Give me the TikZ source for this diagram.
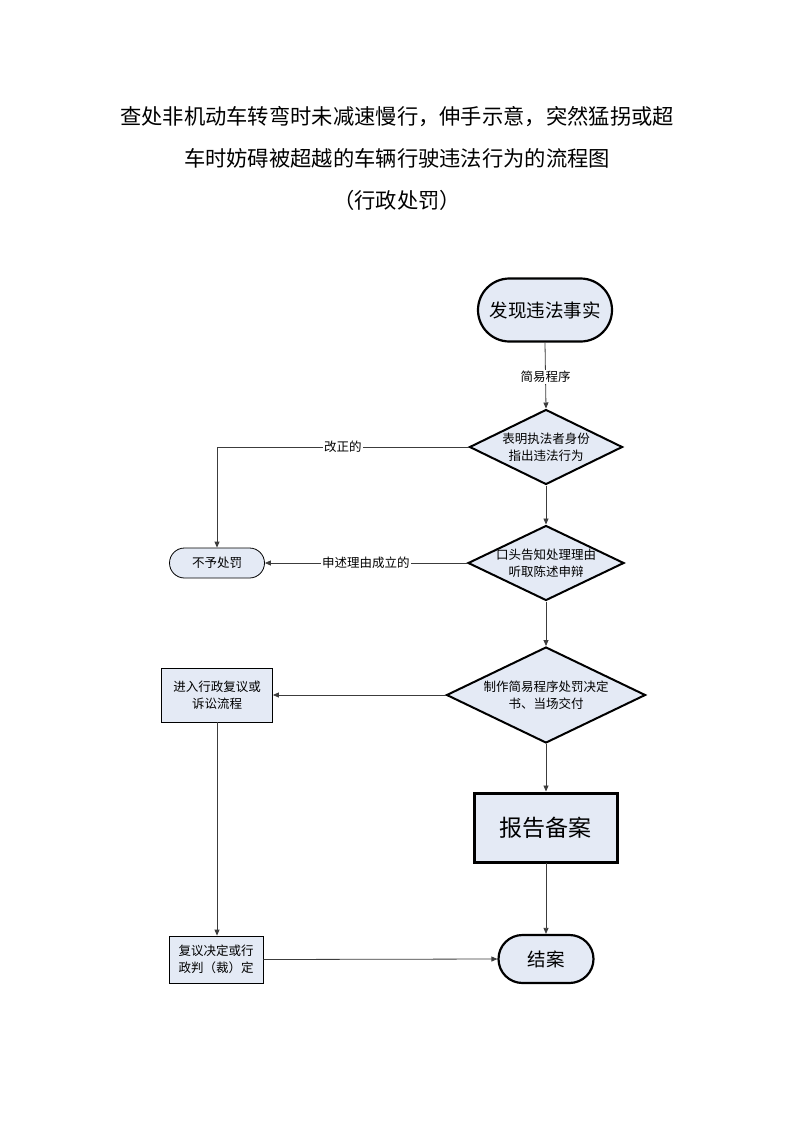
\documentclass[tikz,border=0pt]{standalone}
\usepackage{fontspec}
\setmainfont{Noto Sans CJK SC}
\usetikzlibrary{shapes.geometric,shapes.misc,arrows.meta}
\definecolor{boxfill}{RGB}{228,234,245}
\definecolor{linec}{RGB}{60,60,60}
\tikzset{
  base/.style={fill=boxfill, draw=black, inner sep=0pt, align=center},
  stadium/.style={base, rounded rectangle, line width=2.2pt},
  thinstadium/.style={base, rounded rectangle, line width=0.8pt},
  dia/.style={base, diamond, line width=2pt},
  rectbox/.style={base, rectangle, line width=0.8pt},
  bigbox/.style={base, rectangle, line width=3pt},
  small/.style={font=\fontsize{12.5}{17}\selectfont},
  conn/.style={draw=linec, line width=0.8pt},
  arr/.style={conn, -{Triangle[length=6pt,width=5pt]}},
  lbl/.style={fill=white, inner sep=1pt, small, text=black},
  ttl/.style={font=\fontsize{21.3}{25}\selectfont}
}
\begin{document}
\begin{tikzpicture}[x=1pt,y=-1pt]
\useasboundingbox (0,0) rectangle (793,1122);
% title
\node[ttl] (t1) at (397,117) {查处非机动车转弯时未减速慢行，伸手示意，突然猛拐或超};
\node[ttl] (t2) at (397,158) {车时妨碍被超越的车辆行驶违法行为的流程图};
\node[ttl] (t3) at (397,200) {（行政处罚）};
% nodes
\node[stadium, minimum width=134, minimum height=63, font=\fontsize{18.5}{22}\selectfont] (start) at (545,310) {发现违法事实};
\node[dia, minimum width=153, minimum height=75] (d1) at (546,447) {};
\node[small, align=center] (d1t) at (546,447) {表明执法者身份\\指出违法行为};
\node[dia, minimum width=156, minimum height=75] (d2) at (546,563) {};
\node[small, align=center] (d2t) at (546,563) {口头告知处理理由\\听取陈述申辩};
\node[dia, minimum width=199, minimum height=96] (d3) at (546,695) {};
\node[small, align=center] (d3t) at (546,695) {制作简易程序处罚决定\\书、当场交付};
\node[thinstadium, minimum width=95, minimum height=30, small] (nb) at (217,563) {不予处罚};
\node[rectbox, minimum width=111, minimum height=54, small] (jr) at (217,695) {进入行政复议或\\诉讼流程};
\node[bigbox, minimum width=143, minimum height=69, font=\fontsize{23}{26}\selectfont] (bg) at (545.5,827.5) {报告备案};
\node[rectbox, minimum width=94, minimum height=47, small] (fy) at (216,959.5) {复议决定或行\\政判（裁）定};
\node[stadium, minimum width=95, minimum height=48, font=\fontsize{18.5}{22}\selectfont] (ja) at (546,959) {结案};
\coordinate (c1) at (217,447);
% connectors
\draw[arr] (start.south) -- node[lbl, pos=0.52] {简易程序} (d1.north);
\draw[arr] (d1.west) -- node[lbl, pos=0.5] {改正的} (c1) -- (nb.north);
\draw[arr] (d1.south) -- (d2.north);
\draw[arr] (d2.west) -- node[lbl, pos=0.5] {申述理由成立的} (nb.east);
\draw[arr] (d2.south) -- (d3.north);
\draw[arr] (d3.west) -- (jr.east);
\draw[arr] (d3.south) -- (d3.south |- bg.north);
\draw[arr] (bg.south) -- (bg.south -| ja.north) -- (ja.north);
\draw[arr] (jr.south) -- (jr.south |- fy.north);
\draw[arr] (fy.east) -- (ja.west);
\end{tikzpicture}
\end{document}
